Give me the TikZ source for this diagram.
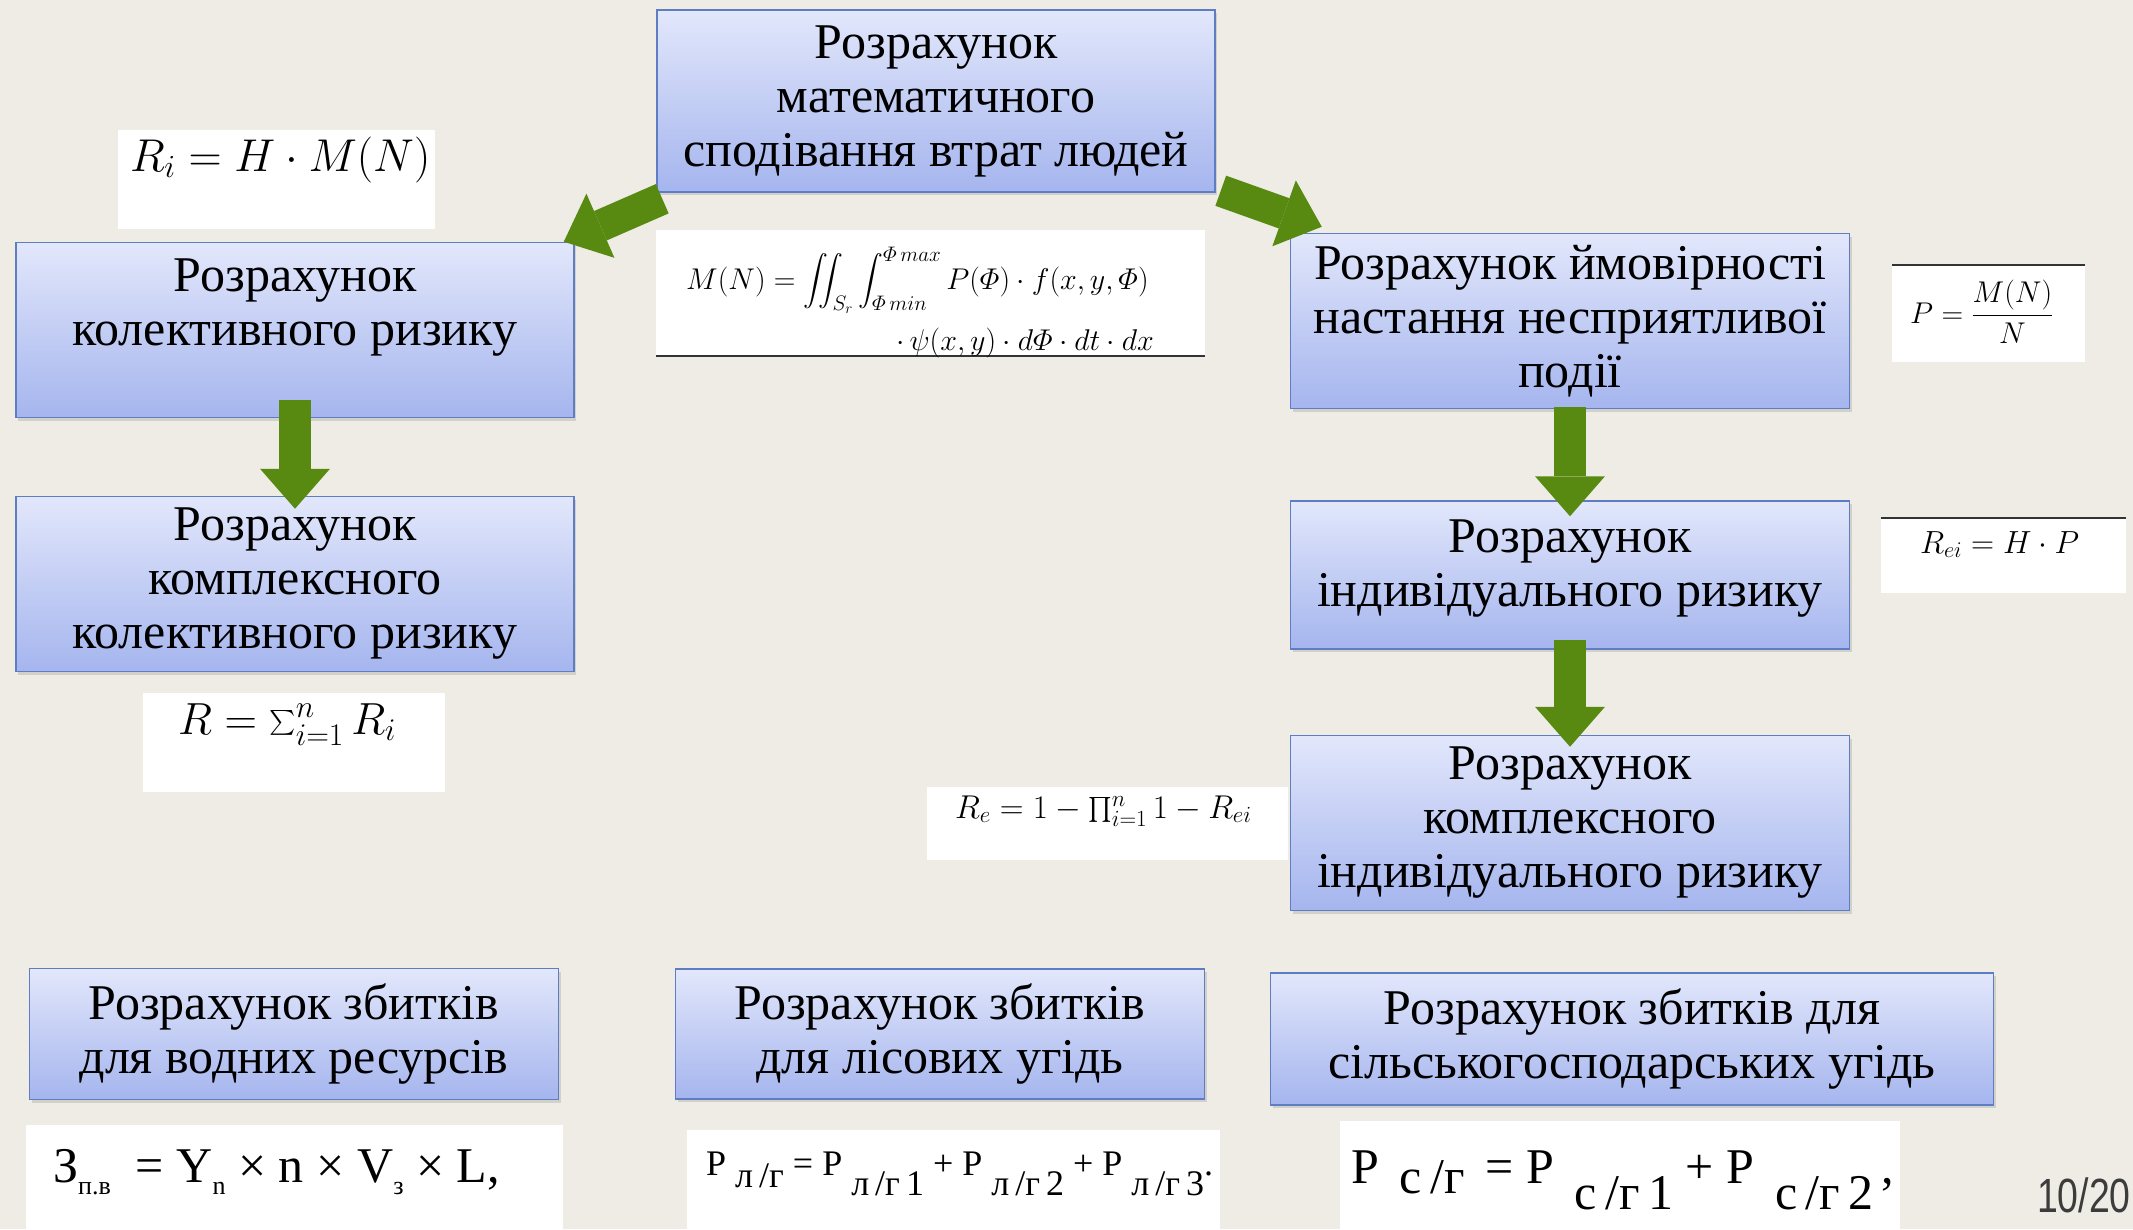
\RequirePackage{fix-cm}
\documentclass[tikz,border=0pt]{standalone}
\usepackage{amsmath}
\usepackage{fontspec}
\setmainfont{Liberation Serif}
\newfontfamily\numfont{Liberation Sans}
\usepackage{tikz}
\usetikzlibrary{arrows.meta,shadows,calc}

\definecolor{slidebg}{RGB}{238,236,228}
\definecolor{boxtop}{RGB}{226,231,251}
\definecolor{boxbot}{RGB}{165,181,238}
\definecolor{boxedge}{RGB}{95,125,195}
\definecolor{arrowgreen}{RGB}{88,138,18}
\definecolor{pagenum}{RGB}{60,60,60}

\newcommand\boxfont{\fontsize{50}{54}\selectfont}
\newcommand\fsize[1]{\fontsize{#1}{#1}\selectfont}
\newcommand\dropsub[2]{\raisebox{-#1pt}{#2}}

\begin{document}
\begin{tikzpicture}[
    x=1pt, y=-1pt,
    calcbox/.style={draw=boxedge, line width=1.5pt, top color=boxtop, bottom color=boxbot,
        align=center, inner sep=0pt, font=\boxfont,
        drop shadow={shadow xshift=2pt, shadow yshift=-3pt, opacity=0.25}},
    formula/.style={anchor=base west, inner sep=0pt},
    flow/.style={draw=arrowgreen, line width=32pt,
        -{Triangle[length=40pt, width=70pt, line width=0pt]}}
]
\fill[slidebg] (0,0) rectangle (2133,1229);
\useasboundingbox (0,0) rectangle (2133,1229);

\fill[white] (118,130) rectangle (435,229);
\fill[white] (656,230) rectangle (1205,356);
\fill[white] (1892,265) rectangle (2085,362);
\fill[white] (1881,518) rectangle (2126,593);
\fill[white] (927,787) rectangle (1288,860);
\fill[white] (143,693) rectangle (445,792);
\fill[white] (26,1125) rectangle (563,1229);
\fill[white] (687,1130) rectangle (1220,1229);
\fill[white] (1340,1121) rectangle (1900,1229);
\draw[line width=2.5pt, black!80] (656,356) -- (1205,356);
\draw[line width=2.5pt, black!80] (1892,265) -- (2085,265);
\draw[line width=2.5pt, black!80] (1881,518) -- (2126,518);

\node[formula, font=\fsize{46}] (ri) at (130,171) {$R_i = H\cdot M(N)$};
\node[formula, font=\fsize{30}] (mn) at (686,289)
    {$M(N)=\displaystyle\iint_{S_r}\int_{\varPhi\,min}^{\varPhi\,max}P(\varPhi)\cdot f(x,y,\varPhi)$};
\node[formula, font=\fsize{30}] (mnrest) at (896,350) {$\cdot\,\psi(x,y)\cdot d\varPhi\cdot dt\cdot dx$};
\node[formula, font=\fsize{30}] (pm) at (1910,323) {$P=\dfrac{M(N)}{N}$};
\node[formula, font=\fsize{32}] (rei) at (1920,553) {$R_{ei}=H\cdot P$};
\node[formula, font=\fsize{33}] (re) at (955,818) {$R_e=1-\prod_{i=1}^{n}1-R_{ei}$};
\node[formula, font=\fsize{45}] (rsum) at (178,734) {$R=\sum_{i=1}^{n}R_i$};
\node[formula, font=\fsize{50}] (zpv) at (53,1182)
    {З\dropsub{12}{\fsize{26}п.в}\ \ = Y\dropsub{12}{\fsize{26}n} × n × V\dropsub{12}{\fsize{26}з} × L,};
\node[formula, font=\fsize{36}] (plg) at (706,1175)
    {P \dropsub{12}{л\,/г} = P \dropsub{20}{л\,/г\,1} + P \dropsub{20}{л\,/г\,2} + P \dropsub{20}{л\,/г\,3}.};
\node[formula, font=\fsize{50}] (psg) at (1351,1183)
    {P \,\dropsub{10}{с\,/г} \,= P \,\dropsub{26}{с\,/г\,1} + P \,\dropsub{26}{с\,/г\,2}\,,};

\node[calcbox, minimum width=558pt, minimum height=182pt] (mat) at (936,101)
    {Розрахунок\\математичного\\сподівання втрат людей};
\node[calcbox, minimum width=558pt, minimum height=175pt, text depth=56pt] (koll) at (295,330)
    {Розрахунок\\колективного ризику};
\node[calcbox, minimum width=558pt, minimum height=175pt] (kompl) at (295,584)
    {Розрахунок\\комплексного\\колективного ризику};
\node[calcbox, minimum width=559pt, minimum height=175pt] (ymov) at (1570,321)
    {Розрахунок ймовірності\\настання несприятливої\\події};
\node[calcbox, minimum width=559pt, minimum height=148pt, text depth=24pt] (indiv) at (1570,575)
    {Розрахунок\\індивідуального ризику};
\node[calcbox, minimum width=559pt, minimum height=175pt] (kompind) at (1570,823)
    {Розрахунок\\комплексного\\індивідуального ризику};
\node[calcbox, minimum width=529pt, minimum height=131pt] (vod) at (294,1034)
    {Розрахунок збитків\\для водних ресурсів};
\node[calcbox, minimum width=529pt, minimum height=130pt] (lis) at (940,1034)
    {Розрахунок збитків\\для лісових угідь};
\node[calcbox, minimum width=723pt, minimum height=132pt] (silg) at (1632,1039)
    {Розрахунок збитків для\\сільськогосподарських угідь};

\draw[flow] ($(mat.south west)+(6,6)$) -- ($(koll.north east)+(-11,0)$);
\draw[flow] ($(mat.south east)+(5,-2)$) -- ($(ymov.north west)+(32,-6)$);
\draw[flow] ($(koll.south)+(0,-18)$) -- ($(kompl.north)+(0,13)$);
\draw[flow] ($(ymov.south)+(0,-2)$) -- ($(indiv.north)+(0,16)$);
\draw[flow] ($(indiv.south)+(0,-10)$) -- ($(kompind.north)+(0,12)$);

\node[anchor=base east, inner sep=0pt, font=\numfont\fsize{48}, text=pagenum] (slide) at (2131,1212)
    {\scalebox{0.78}[1]{10/20}};
\end{tikzpicture}
\end{document}
